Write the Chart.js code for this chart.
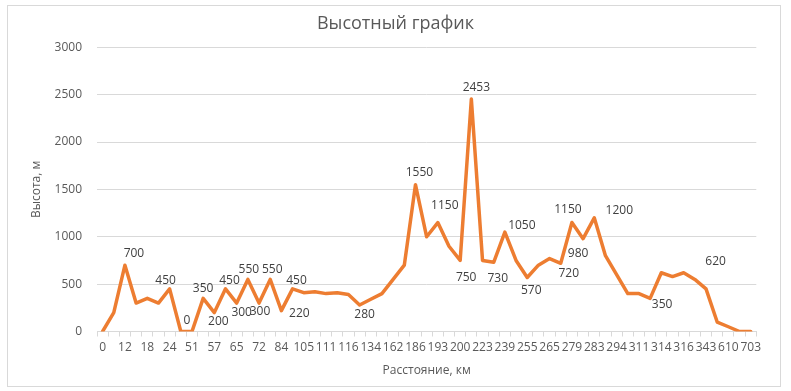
<!DOCTYPE html>
<html>
<head>
<meta charset="utf-8">
<script src="https://cdn.jsdelivr.net/npm/chart.js@4.4.0/dist/chart.umd.min.js"></script>
<style>
  html, body { margin: 0; padding: 0; background: #fff; }
  #wrap { width: 791px; height: 391px; position: relative; }
</style>
</head>
<body>
<div id="wrap"><canvas id="elevChart" width="791" height="391"></canvas></div>
<script>
// categories: distance, km (only every other one is printed on the axis)
const distances = ['0', '', '12', '', '18', '', '24', '', '51', '', '57', '', '65', '', '72', '',
  '84', '', '105', '', '111', '', '116', '', '134', '', '162', '', '186', '', '193', '', '200', '',
  '223', '', '239', '', '255', '', '265', '', '279', '', '283', '', '294', '', '311', '', '314', '',
  '316', '', '343', '', '610', '', '703'];

// elevation, m
const heights = [0, 200, 700, 300, 350, 300, 450, 0, 0, 350, 200, 450, 300, 550, 300, 550,
  220, 450, 410, 420, 400, 410, 390, 280, 340, 400, 550, 700, 1550, 1000, 1150, 900, 750, 2453,
  750, 730, 1050, 750, 570, 700, 770, 720, 1150, 980, 1200, 800, 600, 400, 400, 350, 620, 580,
  620, 550, 450, 100, 50, 0, 0];

const yTicks = [0, 500, 1000, 1500, 2000, 2500, 3000];

// which points carry a value label
const labeledPoints = [2, 6, 7, 9, 10, 11, 12, 13, 14, 15, 16, 17, 23, 28, 30, 32, 33, 35, 36, 38, 41, 42, 43, 44, 49, 52];
// where each label sits relative to its point (dx, dy)
const labelShift = [[9, -12], [-4, -8], [6, -11], [0, -10], [4, 9], [4, -8], [5, 9], [1, -10], [1, 8], [2, -10],
  [18, 3], [4, -8], [5, 10], [4, -12], [7, -17], [6, 17], [5, -12], [4, 16], [17, -6], [4, 13],
  [8, 10], [-4, -13], [-5, 15], [25, -7], [12, 6], [32, -11]];

const pointLabels = {
  id: 'pointLabels',
  afterDatasetsDraw(chart) {
    const ctx = chart.ctx;
    const meta = chart.getDatasetMeta(0);
    ctx.save();
    ctx.font = '12px "Open Sans"';
    ctx.fillStyle = '#404040';
    ctx.textAlign = 'center';
    ctx.textBaseline = 'middle';
    labeledPoints.forEach((idx, k) => {
      const pt = meta.data[idx];
      ctx.fillText(String(heights[idx]), pt.x + labelShift[k][0], pt.y + labelShift[k][1]);
    });
    ctx.restore();
  }
};

const frame = {
  id: 'frame',
  beforeDraw(chart) {
    const ctx = chart.ctx;
    ctx.save();
    ctx.fillStyle = '#fff';
    ctx.fillRect(0, 0, chart.width, chart.height);
    ctx.strokeStyle = '#d9d9d9';
    ctx.lineWidth = 1;
    ctx.strokeRect(7.5, 5.5, 773, 381);
    ctx.restore();
  }
};

const ctx = document.getElementById('elevChart').getContext('2d');
new Chart(ctx, {
  type: 'line',
  data: {
    labels: distances,
    datasets: [{
      data: heights,
      borderColor: '#ED7D31',
      borderWidth: 3.5,
      borderJoinStyle: 'round',
      borderCapStyle: 'round',
      pointRadius: 0,
      tension: 0,
      fill: false
    }]
  },
  options: {
    responsive: false,
    animation: false,
    layout: { padding: 0 },
    plugins: {
      legend: { display: false },
      tooltip: { enabled: false },
      title: {
        display: true,
        text: 'Высотный график',
        color: '#595959',
        font: { family: '"Open Sans"', size: 18, weight: 'normal' },
        padding: { top: 13, bottom: 12.7 }
      }
    },
    scales: {
      x: {
        type: 'category',
        offset: true,
        grid: { display: true, offset: true, drawOnChartArea: false, drawTicks: true, tickLength: 5, color: '#d9d9d9' },
        border: { display: true, color: '#d9d9d9' },
        ticks: {
          autoSkip: false,
          maxRotation: 0,
          padding: 4,
          color: '#595959',
          font: { family: '"Open Sans"', size: 12 }
        },
        title: {
          display: true,
          text: 'Расстояние, км',
          color: '#595959',
          font: { family: '"Open Sans"', size: 12 },
          padding: { top: 0, bottom: 12.8 }
        },
        afterFit(scale) { scale.height = 59.5; }
      },
      y: {
        min: 0,
        max: 3000,
        afterBuildTicks(scale) { scale.ticks = yTicks.map(v => ({ value: v })); },
        grid: { color: '#d9d9d9', drawTicks: false },
        border: { display: false },
        ticks: {
          padding: 15,
          color: '#595959',
          font: { family: '"Open Sans"', size: 12 },
          callback: v => String(v)
        },
        title: {
          display: true,
          text: 'Высота, м',
          color: '#595959',
          font: { family: '"Open Sans"', size: 12 },
          padding: { top: 29.8, bottom: 0 }
        },
        afterFit(scale) { scale.width = 97; }
      },
      // empty right-hand spacer so the title stays centred on the whole frame
      spacer: {
        position: 'right',
        display: true,
        grid: { display: false, drawTicks: false },
        border: { display: false },
        ticks: { display: false },
        afterFit(scale) { scale.width = 34.7; }
      }
    }
  },
  plugins: [frame, pointLabels]
});
</script>
</body>
</html>
